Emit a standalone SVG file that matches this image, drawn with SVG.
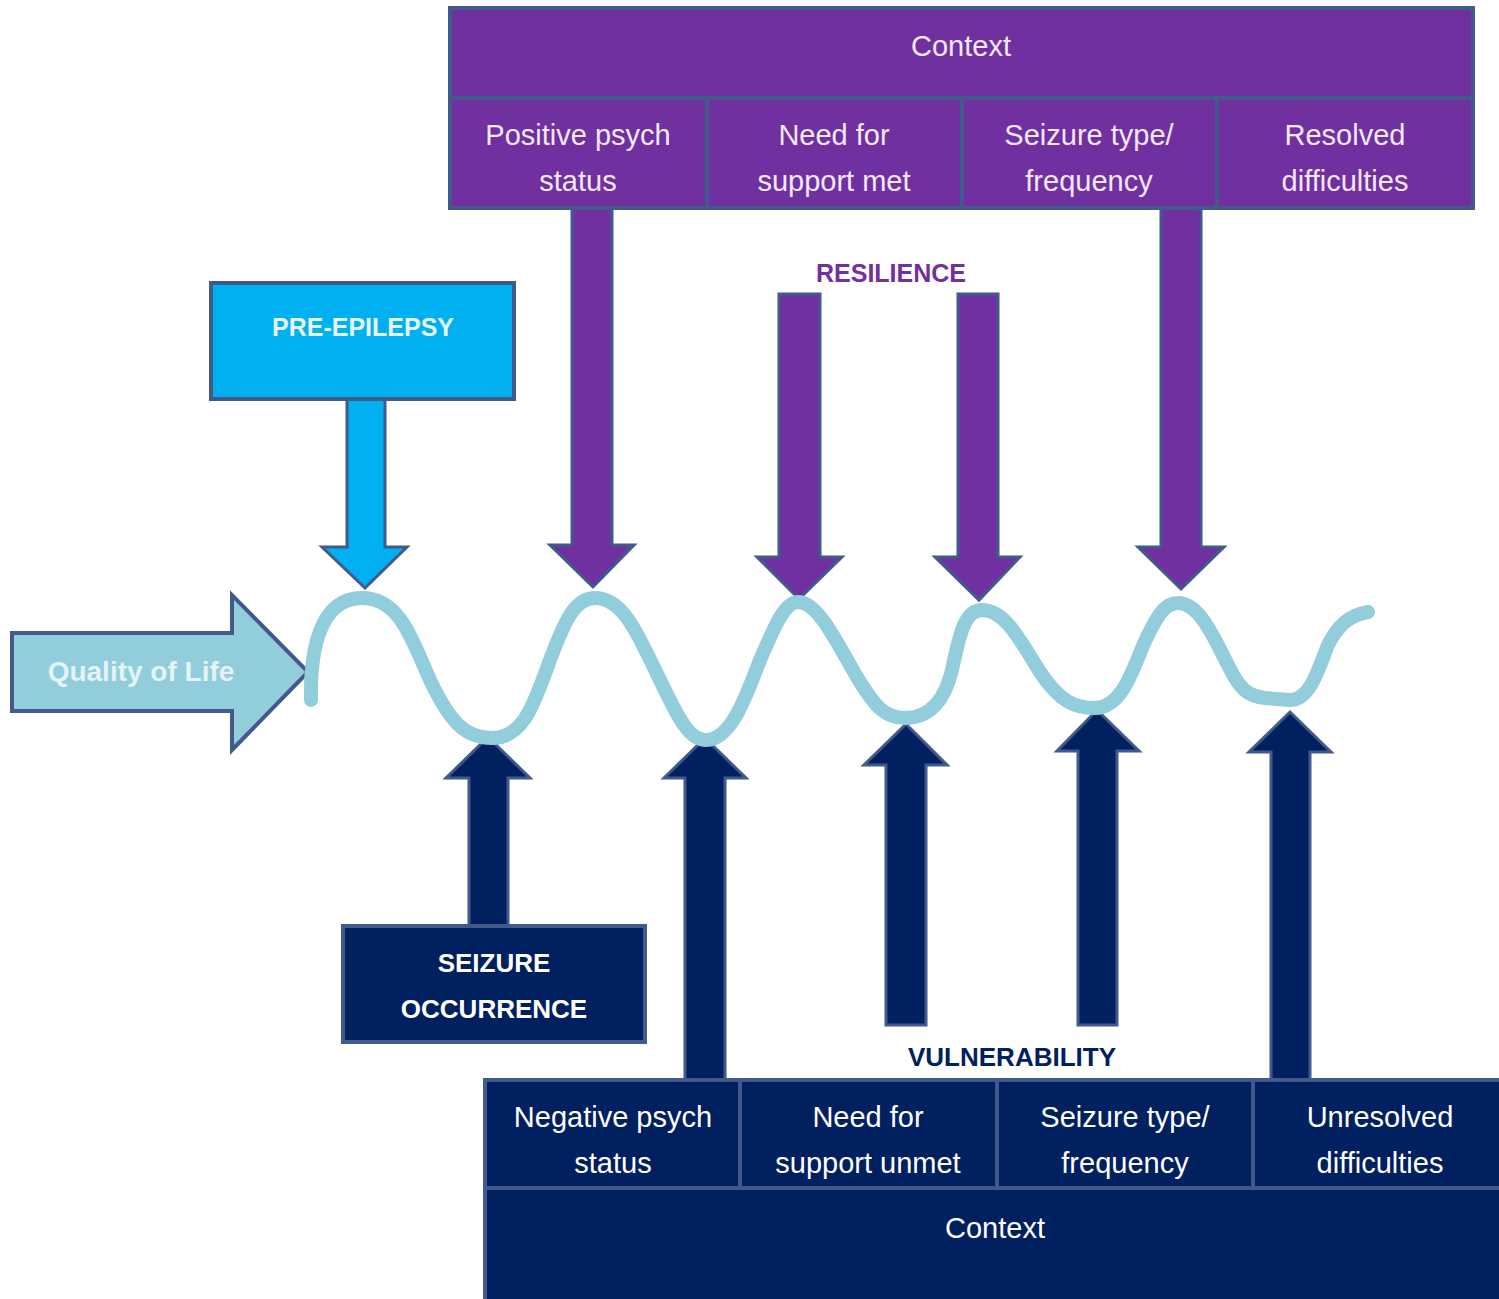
<svg xmlns="http://www.w3.org/2000/svg" width="1499" height="1299" viewBox="0 0 1499 1299">
<style>
.pur{fill:#7030a0;stroke:#41598b;stroke-width:4}
.nav{fill:#002060;stroke:#41598b;stroke-width:4}
.sky{fill:#00b0f0;stroke:#41598b;stroke-width:4}
.lb{fill:#92cddc;stroke:#41598b;stroke-width:4}
.apur{fill:#7030a0;stroke:#41598b;stroke-width:3;stroke-linejoin:miter}
.anav{fill:#002060;stroke:#41598b;stroke-width:3}
.asky{fill:#00b0f0;stroke:#41598b;stroke-width:3}
text{font-family:"Liberation Sans",Arial,sans-serif;text-anchor:middle}
.tp{fill:#f3e8f8;font-size:29px}
.tn{fill:#ffffff;font-size:29px}
.bw{fill:#ffffff;font-size:26px;font-weight:bold}
.wave{fill:none;stroke:#92cddc;stroke-width:14;stroke-linecap:round;stroke-linejoin:round}
</style>
<rect width="1499" height="1299" fill="#ffffff"/>

<g id="connectors">
  <polygon class="asky" points="347,399 385,399 385,547 407,547 365,588 322,547 347,547"/>
  <polygon class="apur" points="572,208 612,208 612,545 634,545 593,587 550,545 572,545"/>
  <polygon class="apur" points="779,294 820,294 820,557 842,557 799,599 757,557 779,557"/>
  <polygon class="apur" points="958,294 998,294 998,557 1020,557 979,600 935,557 958,557"/>
  <polygon class="apur" points="1161,208 1201,208 1201,547 1224,547 1181,589 1138,547 1161,547"/>
  <polygon class="anav" points="469,926 508,926 508,778 530,778 488,737 446,778 469,778"/>
  <polygon class="anav" points="685,1080 725,1080 725,778 746,778 705,738 664,778 685,778"/>
  <polygon class="anav" points="886,1025 926,1025 926,765 947,765 906,724 864,765 886,765"/>
  <polygon class="anav" points="1078,1025 1117,1025 1117,751 1139,751 1097,710 1057,751 1078,751"/>
  <polygon class="anav" points="1271,1080 1310,1080 1310,752 1331,752 1290,712 1249,752 1271,752"/>
</g>

<g id="quality-of-life">
  <polygon class="lb" points="12,633 232,633 232,595 308,672 232,750 232,711 12,711"/>
  <text x="141" y="681" style="fill:#e4f3f8;font-size:28px;font-weight:bold">Quality of Life</text>
</g>

<g id="wave">
  <path class="wave" d="M 311 700 C 310 650, 320 598, 362 598 C 400 598, 412 640, 430 680 C 450 722, 465 738, 492 738 C 525 738, 535 700, 550 660 C 565 620, 575 598, 595 598 C 625 598, 640 640, 660 680 C 680 722, 690 740, 706 740 C 730 740, 745 700, 760 660 C 775 625, 785 602, 798 602 C 820 602, 840 650, 860 682 C 875 706, 885 718, 905 718 C 930 718, 945 700, 952 670 C 960 632, 965 610, 982 610 C 1005 610, 1020 640, 1040 672 C 1060 702, 1075 708, 1095 708 C 1125 708, 1135 660, 1148 635 C 1158 615, 1165 603, 1178 603 C 1200 603, 1215 640, 1228 665 C 1240 690, 1248 696, 1265 698 L 1290 700 C 1310 700, 1318 670, 1328 645 C 1338 625, 1350 615, 1368 612"/>
</g>

<g id="resilience-context">
  <rect class="pur" x="450" y="8" width="1023" height="90"/>
  <text class="tp" x="961" y="56">Context</text>
</g>
<g id="positive-psych">
  <rect class="pur" x="450" y="98" width="257" height="110"/>
  <text class="tp" x="578" y="145">Positive psych</text>
  <text class="tp" x="578" y="191">status</text>
</g>
<g id="support-met">
  <rect class="pur" x="707" y="98" width="255" height="110"/>
  <text class="tp" x="834" y="145">Need for</text>
  <text class="tp" x="834" y="191">support met</text>
</g>
<g id="seizure-type-top">
  <rect class="pur" x="962" y="98" width="255" height="110"/>
  <text class="tp" x="1089" y="145">Seizure type/</text>
  <text class="tp" x="1089" y="191">frequency</text>
</g>
<g id="resolved">
  <rect class="pur" x="1217" y="98" width="256" height="110"/>
  <text class="tp" x="1345" y="145">Resolved</text>
  <text class="tp" x="1345" y="191">difficulties</text>
</g>

<g id="pre-epilepsy">
  <rect class="sky" x="211" y="283" width="303" height="116"/>
  <text x="363" y="336" style="fill:#e6f6fd;font-size:25px;font-weight:bold">PRE-EPILEPSY</text>
</g>

<g id="resilience-label">
  <text x="891" y="282" style="fill:#7030a0;font-size:25px;font-weight:bold">RESILIENCE</text>
</g>

<g id="seizure-occurrence">
  <rect class="nav" x="343" y="926" width="302" height="116"/>
  <text class="bw" x="494" y="972">SEIZURE</text>
  <text class="bw" x="494" y="1018">OCCURRENCE</text>
</g>

<g id="vulnerability-label">
  <text x="1012" y="1066" style="fill:#002060;font-size:26px;font-weight:bold">VULNERABILITY</text>
</g>

<g id="negative-psych">
  <rect class="nav" x="485" y="1080" width="255" height="108"/>
  <text class="tn" x="613" y="1127">Negative psych</text>
  <text class="tn" x="613" y="1173">status</text>
</g>
<g id="support-unmet">
  <rect class="nav" x="740" y="1080" width="257" height="108"/>
  <text class="tn" x="868" y="1127">Need for</text>
  <text class="tn" x="868" y="1173">support unmet</text>
</g>
<g id="seizure-type-bottom">
  <rect class="nav" x="997" y="1080" width="256" height="108"/>
  <text class="tn" x="1125" y="1127">Seizure type/</text>
  <text class="tn" x="1125" y="1173">frequency</text>
</g>
<g id="unresolved">
  <rect class="nav" x="1253" y="1080" width="252" height="108"/>
  <text class="tn" x="1380" y="1127">Unresolved</text>
  <text class="tn" x="1380" y="1173">difficulties</text>
</g>
<g id="vulnerability-context">
  <rect class="nav" x="485" y="1188" width="1020" height="115"/>
  <text class="tn" x="995" y="1238">Context</text>
</g>
</svg>
